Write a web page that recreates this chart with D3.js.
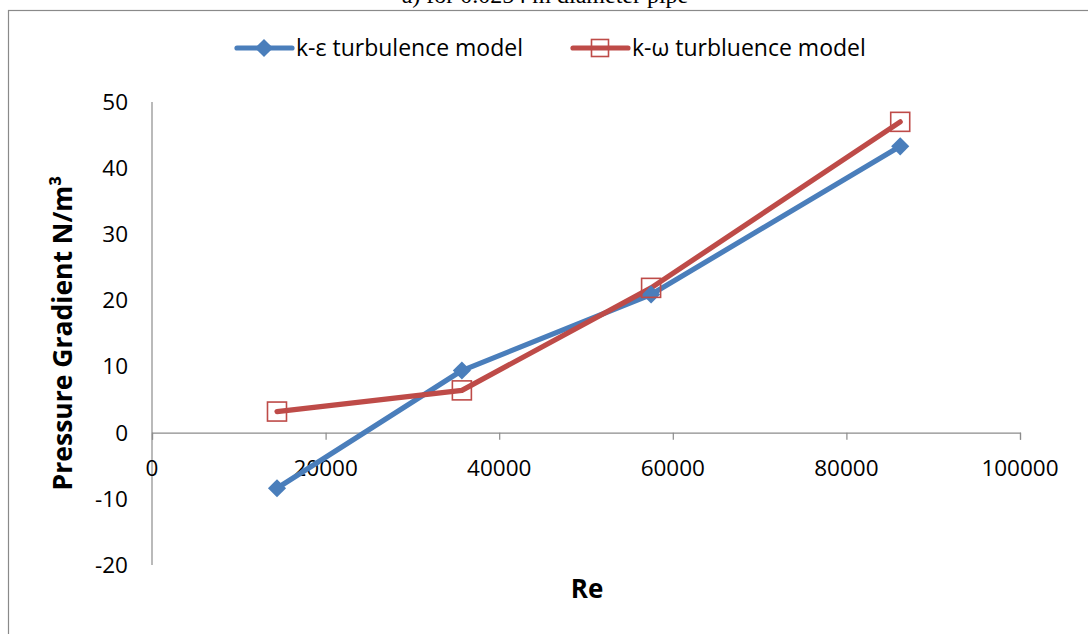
<!DOCTYPE html>
<html>
<head>
<meta charset="utf-8">
<script src="https://cdn.jsdelivr.net/npm/d3@7"></script>
<style>
  html, body { margin: 0; padding: 0; background: #fff; }
  svg { display: block; }
</style>
</head>
<body>
<svg id="chart" width="1088" height="634"></svg>
<script>
// Reynolds numbers of the simulated cases
const reValues = [14400, 35700, 57500, 86200];
// Pressure gradient (N/m³) for each turbulence model
const kEpsilon = [-8.4, 9.4, 20.9, 43.3];
const kOmega = [3.2, 6.4, 21.9, 47.0];
const seriesNames = ["k-ε turbulence model", "k-ω turbluence model"];
const xTicks = [0, 20000, 40000, 60000, 80000, 100000];
const yTicks = [-20, -10, 0, 10, 20, 30, 40, 50];

const blue = "#4a7ebb";
const red = "#be4b48";
const axisGrey = "#8c8c8c";
const labelFont = "'Open Sans', 'Liberation Sans', sans-serif";

const svg = d3.select("#chart");

// Caption sitting above the chart frame
svg.append("text")
  .attr("x", 545).attr("y", 3)
  .attr("text-anchor", "middle")
  .attr("font-family", "'Liberation Serif', 'DejaVu Serif', serif")
  .attr("font-size", 24)
  .attr("fill", "#000")
  .text("a) for 0.0254 m diameter pipe");

// Chart frame
svg.append("rect")
  .attr("x", 8.5).attr("y", 10.5)
  .attr("width", 1090).attr("height", 640)
  .attr("fill", "none")
  .attr("stroke", "#8a8a8a")
  .attr("stroke-width", 1.2);

const x = d3.scaleLinear().domain([0, 100000]).range([152, 1020]);
const y = d3.scaleLinear().domain([-20, 50]).range([565, 102]);

// Y axis: line only, labels on the left
svg.append("line")
  .attr("x1", x(0)).attr("x2", x(0))
  .attr("y1", y(50)).attr("y2", y(-20))
  .attr("stroke", axisGrey).attr("stroke-width", 1.2);

svg.append("g").selectAll("text")
  .data(yTicks).join("text")
  .attr("x", 128).attr("y", d => y(d))
  .attr("dy", "0.35em")
  .attr("text-anchor", "end")
  .attr("font-family", labelFont)
  .attr("font-size", 22.5)
  .attr("fill", "#000")
  .text(d => d);

// X axis through y = 0 with downward ticks
const xAxis = d3.axisBottom(x).tickValues(xTicks).tickSize(7).tickFormat("");
const gx = svg.append("g")
  .attr("transform", `translate(0,${y(0)})`)
  .call(xAxis);
gx.select(".domain").attr("stroke", axisGrey).attr("stroke-width", 1.2);
gx.selectAll(".tick line").attr("stroke", axisGrey).attr("stroke-width", 1.2);

svg.append("g").selectAll("text")
  .data(xTicks).join("text")
  .attr("x", d => x(d)).attr("y", 468)
  .attr("dy", "0.35em")
  .attr("text-anchor", "middle")
  .attr("font-family", labelFont)
  .attr("font-size", 22.5)
  .attr("fill", "#000")
  .text(d => d);

// Axis titles
svg.append("text")
  .attr("transform", "translate(63,333) rotate(-90)")
  .attr("text-anchor", "middle")
  .attr("dy", "0.35em")
  .attr("font-family", labelFont)
  .attr("font-size", 26.5)
  .attr("font-weight", "bold")
  .attr("fill", "#000")
  .text("Pressure Gradient N/m³");

svg.append("text")
  .attr("x", 587).attr("y", 589)
  .attr("text-anchor", "middle")
  .attr("dy", "0.35em")
  .attr("font-family", labelFont)
  .attr("font-size", 26)
  .attr("font-weight", "bold")
  .attr("fill", "#000")
  .text("Re");

const line = d3.line().x(d => x(d[0])).y(d => y(d[1]));
const diamond = d3.symbol().type(d3.symbolDiamond2).size(210);

const epsPts = reValues.map((r, i) => [r, kEpsilon[i]]);
const omgPts = reValues.map((r, i) => [r, kOmega[i]]);

// k-ε series
svg.append("path")
  .datum(epsPts)
  .attr("d", line)
  .attr("fill", "none")
  .attr("stroke", blue)
  .attr("stroke-width", 5.2)
  .attr("stroke-linejoin", "round")
  .attr("stroke-linecap", "round");

// k-ω series
svg.append("path")
  .datum(omgPts)
  .attr("d", line)
  .attr("fill", "none")
  .attr("stroke", red)
  .attr("stroke-width", 5.2)
  .attr("stroke-linejoin", "round")
  .attr("stroke-linecap", "round");

svg.append("g").selectAll("path")
  .data(epsPts).join("path")
  .attr("transform", d => `translate(${x(d[0])},${y(d[1])})`)
  .attr("d", diamond)
  .attr("fill", blue);

svg.append("g").selectAll("rect")
  .data(omgPts).join("rect")
  .attr("x", d => x(d[0]) - 9.5)
  .attr("y", d => y(d[1]) - 9.5)
  .attr("width", 19).attr("height", 19)
  .attr("fill", "none")
  .attr("stroke", red)
  .attr("stroke-width", 1.6);

// Legend
const legend = svg.append("g");
const legendItems = [
  { name: seriesNames[0], color: blue, x0: 237, marker: "diamond" },
  { name: seriesNames[1], color: red, x0: 573, marker: "square" }
];
legendItems.forEach(it => {
  legend.append("line")
    .attr("x1", it.x0).attr("x2", it.x0 + 55)
    .attr("y1", 48).attr("y2", 48)
    .attr("stroke", it.color).attr("stroke-width", 5.2)
    .attr("stroke-linecap", "round");
  if (it.marker === "diamond") {
    legend.append("path")
      .attr("transform", `translate(${it.x0 + 27},48)`)
      .attr("d", diamond)
      .attr("fill", it.color);
  } else {
    legend.append("rect")
      .attr("x", it.x0 + 27 - 8.5).attr("y", 48 - 8.5)
      .attr("width", 17).attr("height", 17)
      .attr("fill", "none")
      .attr("stroke", it.color).attr("stroke-width", 1.6);
  }
  legend.append("text")
    .attr("x", it.x0 + 59).attr("y", 48)
    .attr("dy", "0.35em")
    .attr("font-family", labelFont)
    .attr("font-size", 23)
    .attr("fill", "#000")
    .text(it.name);
});
</script>
</body>
</html>
